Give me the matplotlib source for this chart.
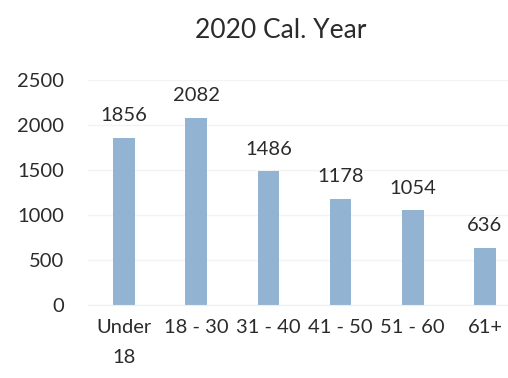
import matplotlib
matplotlib.use("Agg")
import matplotlib.pyplot as plt

plt.rcParams["font.family"] = ["Lato", "DejaVu Sans"]

age_groups = ["Under\n18", "18 - 30", "31 - 40", "41 - 50", "51 - 60", "61+"]
counts = [1856, 2082, 1486, 1178, 1054, 636]
y_ticks = [0, 500, 1000, 1500, 2000, 2500]

bar_color = "#93b3d3"
text_color = "#2b2b2b"

fig = plt.figure(figsize=(5.08, 3.78), dpi=100)
ax = fig.add_axes([0.173, 0.193, 0.827, 0.595])

x = list(range(len(age_groups)))
bars = ax.bar(x, counts, width=0.3, color=bar_color, zorder=2)

for xi, val in zip(x, counts):
    ax.annotate(str(val), (xi, val), xytext=(0, 12), textcoords="offset points",
                ha="center", va="baseline", fontsize=14.5, color=text_color)

ax.set_xlim(-0.5, 5.32)
ax.set_ylim(0, 2500)
ax.set_yticks(y_ticks)
ax.set_xticks(x)
ax.set_xticklabels(age_groups, linespacing=1.9)
ax.tick_params(axis="y", length=0, pad=17, labelsize=14.5, labelcolor=text_color)
ax.tick_params(axis="x", length=0, pad=10, labelsize=14.5, labelcolor=text_color)

ax.grid(axis="y", color="#f3f3f3", linewidth=1, zorder=0)
for side in ["top", "right", "left"]:
    ax.spines[side].set_visible(False)
ax.spines["bottom"].set_color("#eeeeee")

fig.text(0.553, 0.92, "2020 Cal. Year", ha="center", va="center",
         fontsize=19, color=text_color)

fig.savefig("out.png", dpi=100)
